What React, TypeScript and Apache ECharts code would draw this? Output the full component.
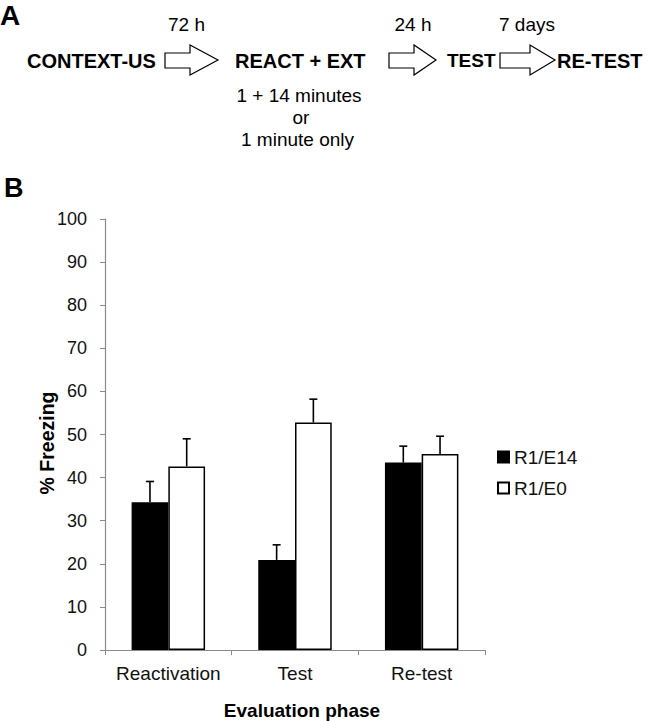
import React, { useEffect, useRef } from "react";
import * as echarts from "echarts";

const categories = ["Reactivation", "Test", "Re-test"];
const seriesNames = ["R1/E14", "R1/E0"];
const r1e14 = [34.3, 20.9, 43.5];
const r1e0 = [42.6, 52.8, 45.5];
const r1e14Err = [4.8, 3.5, 3.8];
const r1e0Err = [6.4, 5.4, 4.1];
const yTicks = { min: 0, max: 100, interval: 10 };

const FONT = "'Liberation Sans', Arial, sans-serif";
const BAR_FRACTION = 0.29;

function arrowPoints(x0: number, xh: number, x1: number) {
  const sT = 53, sB = 68, hT = 45, hB = 75, tip = 60;
  return [
    [x0, sT], [xh, sT], [xh, hT], [x1, tip], [xh, hB], [xh, sB], [x0, sB],
  ];
}

function txt(text: string, x: number, y: number, size: number, bold: boolean, align: string = "left", rotation = 0) {
  return {
    type: "text",
    x,
    y,
    rotation,
    style: {
      text,
      fontSize: size,
      fontWeight: bold ? "bold" : "normal",
      fontFamily: FONT,
      fill: "#000",
      align,
      textAlign: align,
      verticalAlign: "middle",
      textVerticalAlign: "middle",
    },
  };
}

function errorSeries(values: number[], errs: number[], side: number) {
  return {
    type: "custom",
    z: 10,
    silent: true,
    data: values.map((v, i) => [i, v, errs[i]]),
    renderItem: (params: any, api: any) => {
      const idx = api.value(0);
      const v = api.value(1);
      const e = api.value(2);
      const band = api.size([1, 0])[0];
      const off = (side * band * BAR_FRACTION) / 2;
      const base = api.coord([idx, v]);
      const top = api.coord([idx, v + e]);
      const x = base[0] + off;
      const cap = 4;
      const style = { stroke: "#000", lineWidth: 1.6 };
      return {
        type: "group",
        children: [
          { type: "line", shape: { x1: x, y1: base[1], x2: x, y2: top[1] }, style },
          { type: "line", shape: { x1: x - cap, y1: top[1], x2: x + cap, y2: top[1] }, style },
        ],
      };
    },
  };
}

export default function App() {
  const ref = useRef<HTMLDivElement>(null);
  useEffect(() => {
    if (!ref.current) return;
    const chart = echarts.init(ref.current, null, { renderer: "svg" });
    const axisGray = "#8a8a8a";
    chart.setOption({
      animation: false,
      backgroundColor: "#fff",
      textStyle: { fontFamily: FONT },
      grid: { left: 105, right: 164, top: 219, bottom: 71, containLabel: false },
      legend: {
        orient: "vertical",
        left: 492,
        top: 442,
        itemWidth: 11,
        itemHeight: 11,
        itemGap: 11,
        icon: "rect",
        data: seriesNames,
        textStyle: { fontSize: 19, fontFamily: FONT, color: "#111", lineHeight: 20 },
      },
      xAxis: {
        type: "category",
        data: categories,
        boundaryGap: true,
        axisLine: { show: true, lineStyle: { color: axisGray, width: 1.2 } },
        axisTick: { show: true, alignWithLabel: false, length: 5, lineStyle: { color: axisGray } },
        axisLabel: { interval: 0, fontSize: 19, color: "#111", margin: 14, fontFamily: FONT },
        splitLine: { show: false },
      },
      yAxis: {
        type: "value",
        min: yTicks.min,
        max: yTicks.max,
        interval: yTicks.interval,
        axisLine: { show: true, lineStyle: { color: axisGray, width: 1.2 } },
        axisTick: { show: true, length: 5, lineStyle: { color: axisGray } },
        axisLabel: { fontSize: 18, color: "#111", margin: 18, fontFamily: FONT },
        splitLine: { show: false },
      },
      series: [
        {
          name: seriesNames[0],
          type: "bar",
          data: r1e14,
          barWidth: `${BAR_FRACTION * 100}%`,
          barGap: "0%",
          itemStyle: { color: "#000", borderColor: "#000", borderWidth: 1.5 },
        },
        {
          name: seriesNames[1],
          type: "bar",
          data: r1e0,
          barWidth: `${BAR_FRACTION * 100}%`,
          barGap: "0%",
          itemStyle: { color: "#fff", borderColor: "#000", borderWidth: 1.5 },
        },
        errorSeries(r1e14, r1e14Err, -1),
        errorSeries(r1e0, r1e0Err, 1),
      ],
      graphic: [
        txt("A", 0, 15.5, 28, true),
        txt("CONTEXT-US", 27, 60.5, 20, true),
        txt("72 h", 186.5, 24.5, 19, false, "center"),
        { type: "polygon", shape: { points: arrowPoints(165, 190, 218) }, style: { fill: "#fff", stroke: "#000", lineWidth: 1.2 } },
        txt("REACT + EXT", 235, 60.5, 20, true),
        txt("1 + 14 minutes", 299, 95, 19, false, "center"),
        txt("or", 301, 117, 19, false, "center"),
        txt("1 minute only", 297.5, 139, 19, false, "center"),
        { type: "polygon", shape: { points: arrowPoints(389, 414, 436) }, style: { fill: "#fff", stroke: "#000", lineWidth: 1.2 } },
        txt("24 h", 413, 24.5, 19, false, "center"),
        txt("TEST", 447, 60.5, 19, true),
        { type: "polygon", shape: { points: arrowPoints(500, 530, 555) }, style: { fill: "#fff", stroke: "#000", lineWidth: 1.2 } },
        txt("7 days", 527, 24.5, 19, false, "center"),
        txt("RE-TEST", 557, 60.5, 20, true),
        txt("B", 4, 188, 27, true),
        txt("% Freezing", 47, 443, 19.5, true, "center", Math.PI / 2),
        txt("Evaluation phase", 302, 710, 19, true, "center"),
      ],
    });
    return () => chart.dispose();
  }, []);
  return (
    <div
      ref={ref}
      style={{ position: "absolute", left: 0, top: 0, width: 649, height: 721 }}
    />
  );
}
